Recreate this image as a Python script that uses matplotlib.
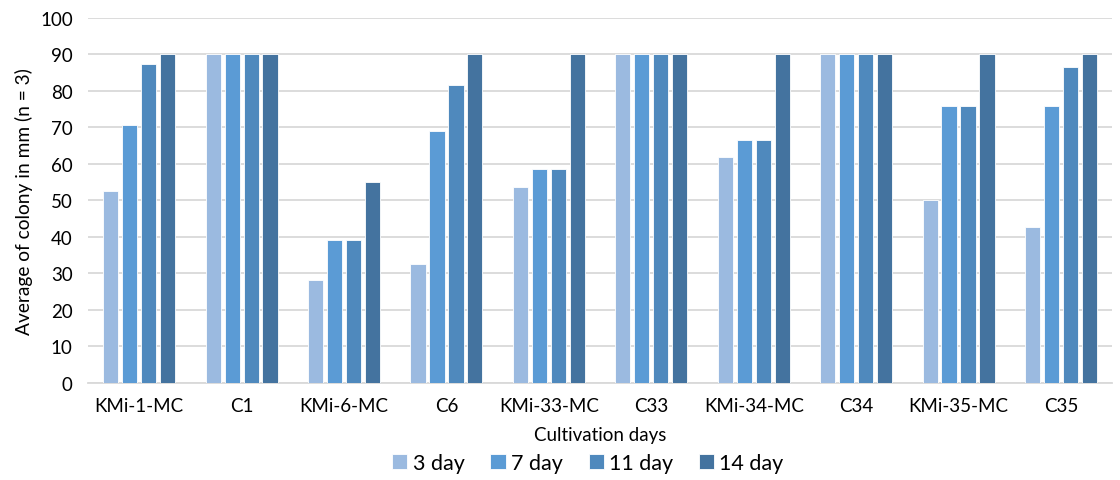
import matplotlib
matplotlib.use("Agg")
import matplotlib.pyplot as plt
import numpy as np

plt.rcParams['font.family'] = ['Lato', 'DejaVu Sans']

categories = ["KMi-1-MC", "C1", "KMi-6-MC", "C6", "KMi-33-MC", "C33",
              "KMi-34-MC", "C34", "KMi-35-MC", "C35"]
series_names = ["3 day", "7 day", "11 day", "14 day"]
day3 = [52.5, 90, 28.1, 32.6, 53.8, 90, 62.0, 90, 50.0, 42.7]
day7 = [70.8, 90, 39.3, 69.1, 58.5, 90, 66.6, 90, 75.8, 75.8]
day11 = [87.3, 90, 39.3, 81.6, 58.5, 90, 66.6, 90, 75.8, 86.5]
day14 = [90, 90, 55.2, 90, 90, 90, 90, 90, 90, 90]
series = [day3, day7, day11, day14]
colors = ["#9bbae0", "#5b9bd5", "#4f89bd", "#44739f"]

fig = plt.figure(figsize=(11.2, 4.81), dpi=100)
ax = fig.add_axes([0.0786, 0.2017, 0.9144, 0.7588])

x = np.arange(len(categories))
step = 0.185
width = 0.148
for i, (vals, name, c) in enumerate(zip(series, series_names, colors)):
    ax.bar(x + (i - 1.5) * step, vals, width, color=c, label=name,
           edgecolor="white", linewidth=0.6, zorder=3)

ax.set_xlim(-0.5, len(categories) - 0.5)
ax.set_ylim(0, 100)
ax.set_yticks(np.arange(0, 101, 10))
ax.set_xticks(x)
ax.set_xticklabels(categories)
ax.tick_params(axis='both', length=0, labelsize=13.5, colors="#000000")
ax.tick_params(axis='x', pad=10)
ax.tick_params(axis='y', pad=11)
ax.grid(axis='y', color="#d9d9d9", linewidth=1.3, zorder=0)
for s in ["top", "right", "left"]:
    ax.spines[s].set_visible(False)
ax.spines["bottom"].set_color("#d9d9d9")
ax.spines["bottom"].set_linewidth(1.3)

ax.set_ylabel("Average of colony in mm (n = 3)", fontsize=13.8, labelpad=5)
ax.set_xlabel("Cultivation days", fontsize=13.5, labelpad=9)

fig.legend(loc="lower center", bbox_to_anchor=(0.525, -0.025), ncol=4,
           frameon=False, fontsize=15.5, handlelength=0.7, handleheight=0.7,
           handletextpad=0.25, columnspacing=1.2)

fig.savefig("out.png", dpi=100)
